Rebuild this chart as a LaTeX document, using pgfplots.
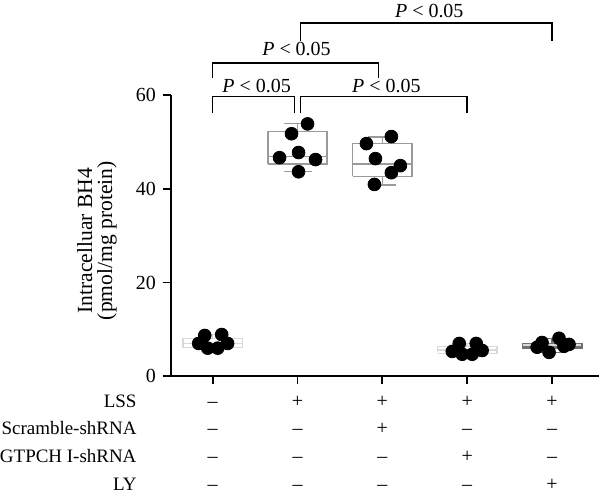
\documentclass[border=0pt]{standalone}
\usepackage{fontspec}
\setmainfont{Liberation Serif}
\usepackage{pgfplots}
\pgfplotsset{compat=1.18}

\definecolor{boxlight}{HTML}{D9D9D9}
\definecolor{boxmid}{HTML}{9A9A9A}
\definecolor{boxdark}{HTML}{707070}

\begin{document}
\begin{tikzpicture}
\begin{axis}[
    x=42.5pt, y=2.35pt,
    xmin=0.506, xmax=5.553, ymin=0, ymax=60,
    axis x line=bottom, axis y line=left,
    axis line style={-, line width=0.9pt},
    xtick={1,2,3,4,5}, xticklabels={},
    ytick={0,20,40,60},
    tick align=outside, major tick length=4pt,
    tick style={black, line width=0.9pt},
    /pgf/number format/assume math mode=true,
    unbounded coords=jump,
    clip=false,
]
% frame of the whole picture
\path (axis cs:-1.506,-25.96) rectangle (axis cs:5.565,80.21);
\draw[line width=0.9pt] (axis cs:0.412,0) -- (axis cs:0.506,0);

% box plots: box, median, whiskers with caps
\addplot[draw=boxlight, line width=0.75pt] coordinates {
    (0.65,6.1) (1.35,6.1) (1.35,8.1) (0.65,8.1) (0.65,6.1) (1,nan)
    (0.65,7.0) (1.35,7.0) (1,nan)
    (1,8.1) (1,8.9) (1,nan) (0.835,8.9) (1.165,8.9) (1,nan)
    (1,6.1) (1,5.9) (1,nan) (0.835,5.9) (1.165,5.9)
};
\addplot[draw=boxmid, line width=0.75pt] coordinates {
    (1.65,45.3) (2.35,45.3) (2.35,52.2) (1.65,52.2) (1.65,45.3) (2,nan)
    (1.65,46.9) (2.35,46.9) (2,nan)
    (2,52.2) (2,53.9) (2,nan) (1.835,53.9) (2.165,53.9) (2,nan)
    (2,45.3) (2,43.6) (2,nan) (1.835,43.6) (2.165,43.6)
};
\addplot[draw=boxmid, line width=0.75pt] coordinates {
    (2.65,42.6) (3.35,42.6) (3.35,49.6) (2.65,49.6) (2.65,42.6) (3,nan)
    (2.65,45.3) (3.35,45.3) (3,nan)
    (3,49.6) (3,51.0) (3,nan) (2.835,51.0) (3.165,51.0) (3,nan)
    (3,42.6) (3,40.8) (3,nan) (2.835,40.8) (3.165,40.8)
};
\addplot[draw=boxlight, line width=0.75pt] coordinates {
    (3.65,4.9) (4.35,4.9) (4.35,6.4) (3.65,6.4) (3.65,4.9) (4,nan)
    (3.65,5.6) (4.35,5.6) (4,nan)
    (4,6.4) (4,7.0) (4,nan) (3.835,7.0) (4.165,7.0) (4,nan)
    (4,4.9) (4,4.7) (4,nan) (3.835,4.7) (4.165,4.7)
};
\addplot[draw=boxdark, fill=boxlight, line width=0.75pt] coordinates {
    (4.65,6.0) (5.35,6.0) (5.35,7.0) (4.65,7.0) (4.65,6.0)
};
\addplot[draw=boxdark, line width=0.75pt] coordinates {
    (4.65,6.4) (5.35,6.4) (5,nan)
    (5,7.0) (5,8.1) (5,nan) (4.835,8.1) (5.165,8.1) (5,nan)
    (5,6.0) (5,5.1) (5,nan) (4.835,5.1) (5.165,5.1)
};

% individual values
\addplot[only marks, mark=*, mark size=3.2pt, black] coordinates {
    (0.906,8.7) (1.106,8.9) (0.835,7.0) (1.176,7.0) (0.941,6.0) (1.059,6.0)
    (2.118,53.8) (1.929,51.7) (2.012,47.7) (1.788,46.6) (2.212,46.2) (2.012,43.6)
    (3.106,51.1) (2.812,49.6) (2.918,46.4) (3.212,44.9) (3.106,43.4) (2.906,40.9)
    (3.906,7.0) (4.106,7.0) (3.824,5.3) (4.176,5.5) (3.941,4.7) (4.059,4.7)
    (4.882,7.2) (5.082,8.1) (5.200,6.8) (4.824,6.2) (4.965,5.1) (5.141,6.4)
};

% significance brackets
\draw[line width=0.8pt] (axis cs:1,56.2) |- (axis cs:1.965,59.6) -- (axis cs:1.965,56.2);
\draw[line width=0.8pt] (axis cs:2.035,56.2) |- (axis cs:4,59.6) -- (axis cs:4,56.2);
\draw[line width=0.8pt] (axis cs:1,63.6) |- (axis cs:2.953,66.8) -- (axis cs:2.953,63.6);
\draw[line width=0.8pt] (axis cs:2.035,71.5) |- (axis cs:5,75.3) -- (axis cs:5,71.5);
\node[inner sep=0pt] at (axis cs:1.518,61.9) {\textit{P} < 0.05};
\node[inner sep=0pt] at (axis cs:3.047,61.9) {\textit{P} < 0.05};
\node[inner sep=0pt] at (axis cs:1.988,69.8) {\textit{P} < 0.05};
\node[inner sep=0pt] at (axis cs:3.553,77.9) {\textit{P} < 0.05};

% y label
\node[rotate=90, align=center, inner sep=0pt, font=\fontsize{10.8}{10}\selectfont]
    at (axis cs:-0.365,28.9) {Intracelluar BH4\\(pmol/mg protein)};

% treatment table
\node[anchor=base east, inner sep=0pt, font=\fontsize{9.5}{11}\selectfont] at (axis cs:0.106,-6.6) {LSS};
\node[anchor=base east, inner sep=0pt, font=\fontsize{9.5}{11}\selectfont] at (axis cs:0.106,-12.5) {Scramble-shRNA};
\node[anchor=base east, inner sep=0pt, font=\fontsize{9.5}{11}\selectfont] at (axis cs:0.106,-18.4) {GTPCH I-shRNA};
\node[anchor=base east, inner sep=0pt, font=\fontsize{9.5}{11}\selectfont] at (axis cs:0.106,-24.3) {LY};
% LSS row
\node[anchor=base, inner sep=0pt] at (axis cs:1,-6.6) {--};
\node[anchor=base, inner sep=0pt] at (axis cs:2,-6.6) {+};
\node[anchor=base, inner sep=0pt] at (axis cs:3,-6.6) {+};
\node[anchor=base, inner sep=0pt] at (axis cs:4,-6.6) {+};
\node[anchor=base, inner sep=0pt] at (axis cs:5,-6.6) {+};
% Scramble-shRNA row
\node[anchor=base, inner sep=0pt] at (axis cs:1,-12.5) {--};
\node[anchor=base, inner sep=0pt] at (axis cs:2,-12.5) {--};
\node[anchor=base, inner sep=0pt] at (axis cs:3,-12.5) {+};
\node[anchor=base, inner sep=0pt] at (axis cs:4,-12.5) {--};
\node[anchor=base, inner sep=0pt] at (axis cs:5,-12.5) {--};
% GTPCH I-shRNA row
\node[anchor=base, inner sep=0pt] at (axis cs:1,-18.4) {--};
\node[anchor=base, inner sep=0pt] at (axis cs:2,-18.4) {--};
\node[anchor=base, inner sep=0pt] at (axis cs:3,-18.4) {--};
\node[anchor=base, inner sep=0pt] at (axis cs:4,-18.4) {+};
\node[anchor=base, inner sep=0pt] at (axis cs:5,-18.4) {--};
% LY row
\node[anchor=base, inner sep=0pt] at (axis cs:1,-24.3) {--};
\node[anchor=base, inner sep=0pt] at (axis cs:2,-24.3) {--};
\node[anchor=base, inner sep=0pt] at (axis cs:3,-24.3) {--};
\node[anchor=base, inner sep=0pt] at (axis cs:4,-24.3) {--};
\node[anchor=base, inner sep=0pt] at (axis cs:5,-24.3) {+};
\end{axis}
\end{tikzpicture}
\end{document}
